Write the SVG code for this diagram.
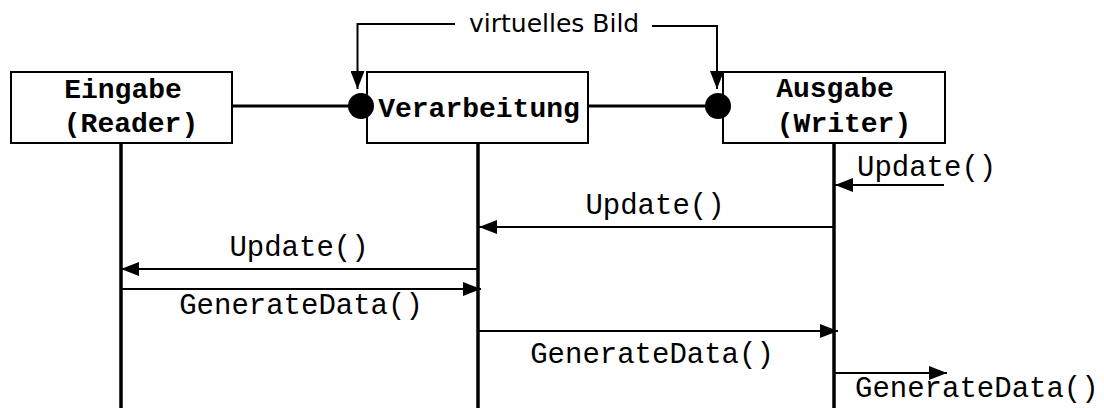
<svg xmlns="http://www.w3.org/2000/svg" width="1104" height="408" viewBox="0 0 1104 408">
  <style>
    .box { fill: #fff; stroke: #000; stroke-width: 2; }
    .title { font-family: "Liberation Mono", "Courier New", monospace; font-weight: bold; font-size: 28px; fill: #000; text-anchor: middle; }
    .msg { font-family: "Liberation Mono", "Courier New", monospace; font-size: 29px; fill: #000; }
    .note { font-family: "DejaVu Sans", "Noto Sans", sans-serif; font-size: 25px; fill: #000; }
    .life { stroke: #000; stroke-width: 3.5; fill: none; }
    .link { stroke: #000; stroke-width: 3; fill: none; }
    .call { stroke: #000; stroke-width: 2; fill: none; marker-end: url(#head); }
    .port { fill: #000; }
  </style>
  <defs>
    <marker id="head" viewBox="0 0 18 14" refX="18" refY="7" markerWidth="18" markerHeight="14" markerUnits="userSpaceOnUse" orient="auto">
      <path d="M0,0 L18,7 L0,14 Z" fill="#000"/>
    </marker>
  </defs>

  <g id="reader">
    <rect class="box" x="11" y="72" width="221" height="71"/>
    <text class="title" x="123" y="98">Eingabe</text>
    <text class="title" x="131" y="132">(Reader)</text>
  </g>

  <g id="filter">
    <rect class="box" x="367" y="72" width="221" height="71"/>
    <text class="title" x="479" y="117">Verarbeitung</text>
  </g>

  <g id="writer">
    <rect class="box" x="723" y="72" width="222" height="71"/>
    <text class="title" x="835" y="97">Ausgabe</text>
    <text class="title" x="844" y="132">(Writer)</text>
  </g>

  <!-- lifelines, links between the filters and the calls -->
  <g id="connectors">
    <line class="life" x1="121" y1="143" x2="121" y2="408"/>
    <line class="life" x1="478" y1="143" x2="478" y2="408"/>
    <line class="life" x1="834" y1="143" x2="834" y2="408"/>

    <line class="link" x1="232" y1="106" x2="350" y2="106"/>
    <line class="link" x1="588" y1="106" x2="707" y2="106"/>
    <circle class="port" cx="361" cy="106" r="13"/>
    <circle class="port" cx="718" cy="106" r="13"/>

    <!-- virtual image pointers -->
    <polyline class="call" points="455,24 357.5,24 357.5,89"/>
    <polyline class="call" points="652,26 717,26 717,89"/>
    <text class="note" x="469" y="32">virtuelles Bild</text>

    <!-- request pass (upstream) -->
    <line class="call" x1="944" y1="185" x2="835" y2="185"/>
    <text class="msg" x="857" y="176">Update()</text>
    <line class="call" x1="834" y1="227" x2="479" y2="227"/>
    <text class="msg" x="655" y="214" text-anchor="middle">Update()</text>
    <line class="call" x1="478" y1="269" x2="121" y2="269"/>
    <text class="msg" x="299" y="256" text-anchor="middle">Update()</text>

    <!-- execution pass (downstream) -->
    <line class="call" x1="121" y1="289" x2="481" y2="289"/>
    <text class="msg" x="301" y="314" text-anchor="middle">GenerateData()</text>
    <line class="call" x1="478" y1="331" x2="838" y2="331"/>
    <text class="msg" x="652" y="363" text-anchor="middle">GenerateData()</text>
    <line class="call" x1="834" y1="373" x2="947" y2="373"/>
    <text class="msg" x="855" y="397">GenerateData()</text>
  </g>
</svg>
